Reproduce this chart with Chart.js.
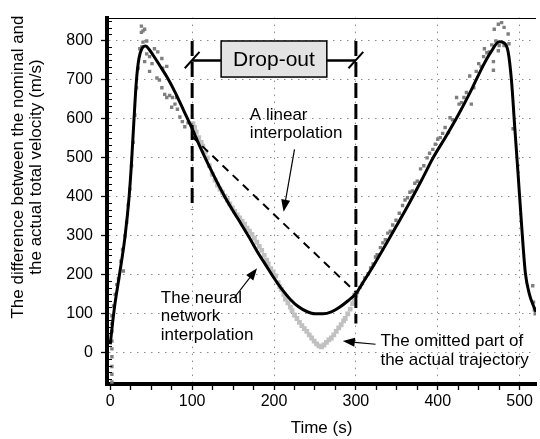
<!DOCTYPE html>
<html>
<head>
<meta charset="utf-8">
<script src="https://cdn.jsdelivr.net/npm/chart.js@4.4.1/dist/chart.umd.min.js"></script>
<style>
  html, body { margin: 0; padding: 0; background: #fff; overflow: hidden; }
  #wrap { width: 540px; height: 439px; position: relative; }
</style>
</head>
<body>
<div id="wrap"><canvas id="velocity"></canvas></div>
<script>
// actual trajectory, recorded samples (outside the drop-out)
const actualT = [2, 2, 2, 2, 2, 2, 2, 2, 2, 4, 6, 8, 10, 13, 16, 15, 18, 20, 22, 24, 26, 28, 30, 32, 34,
  38, 42, 40, 38, 40, 44.5, 38.5, 36, 44.5, 42, 48, 54, 58, 48, 51, 63, 64, 69, 57, 60, 63, 66.5, 69, 72.5,
  76, 81, 79, 75, 82, 85, 88, 91, 95, 99,
  298, 302, 305, 308, 311, 315, 318, 321, 324, 326, 330, 333, 336, 339, 342, 345, 349, 353, 357, 360, 363,
  366, 369, 372, 375, 379, 383, 387, 390, 394, 397, 400, 403, 406, 409, 413, 415, 418, 423, 426, 429, 432,
  435, 439, 441, 444, 447, 450, 453, 456, 457, 460, 463, 466, 468, 468, 471, 474, 475, 469, 474, 478, 481,
  481, 486, 487, 492, 516, 518, 519, 517];
const actualV = [95, 75, 55, 30, 10, -10, -35, -55, -75, 120, 150, 175, 190, 235, 210, 265, 300, 335, 380,
  420, 480, 540, 610, 680, 730,
  838, 830, 826, 822, 797, 800, 785, 780, 767, 747, 760, 780, 772, 722, 742, 755, 730, 735, 705, 700, 680,
  663, 655, 660, 655, 655, 638, 630, 625, 605, 593, 580, 590, 585,
  150, 155, 168, 178, 192, 203, 218, 228, 246, 252, 270, 282, 290, 307, 312, 328, 340, 358, 378, 392, 398,
  412, 415, 435, 440, 472, 480, 500, 512, 522, 535, 548, 552, 563, 578, 565, 603, 598, 655, 638, 642, 655,
  668, 710, 638, 680, 722, 742, 735, 760, 780, 770, 772, 790, 747, 725, 800, 775, 788, 830, 843, 847, 835,
  788, 818, 793, 575, 172, 110, 100, 130];

// omitted part of the actual trajectory (inside the drop-out)
const omittedT = [101, 103, 105, 108, 111, 113, 116, 118.5, 121, 124.5, 128, 131, 134, 137, 140, 143, 146,
  149, 152, 155, 158, 161, 164, 167, 170, 173, 176, 179, 182, 185, 188, 191, 193, 196, 199, 202, 205, 207,
  209, 212, 214, 217, 220, 222, 225, 228, 231, 234, 237, 240, 243, 246, 249, 252, 255, 258, 261, 264, 267,
  270, 273, 276, 279, 282, 285, 287, 290, 293, 296, 298, 300];
const omittedV = [588, 578, 566, 552, 540, 530, 515, 500, 480, 458, 443, 430, 420, 412, 402, 392, 382, 372,
  363, 354, 346, 338, 330, 320, 312, 304, 294, 284, 273, 263, 250, 238, 228, 216, 207, 197, 180, 170, 163,
  150, 138, 128, 117, 108, 97, 88, 78, 70, 62, 55, 46, 38, 30, 23, 18, 15, 20, 27, 33, 38, 46, 55, 64, 72,
  82, 88, 100, 112, 126, 138, 148];

// neural network interpolation
const neuralT = [0, 3, 6, 11, 18, 23, 26, 29, 32, 35, 39, 43, 48, 55, 62, 70, 80, 90, 100, 110, 120, 130,
  140, 150, 160, 170, 180, 190, 200, 210, 220, 230, 240, 250, 260, 270, 280, 290, 300, 310, 320, 335, 350,
  365, 380, 395, 410, 425, 440, 455, 465, 475, 481, 486, 490, 494, 498, 502, 507, 512, 517, 520];
const neuralV = [22, 80, 130, 197, 298, 400, 490, 600, 700, 755, 782, 787, 777, 755, 732, 705, 665, 620,
  575, 527, 482, 440, 400, 364, 330, 295, 258, 225, 192, 162, 137, 118, 106, 100, 100, 105, 117, 133, 152,
  185, 218, 272, 327, 383, 442, 503, 555, 610, 670, 735, 772, 798, 795, 772, 700, 580, 462, 340, 205, 150,
  120, 105];

// linear interpolation across the drop-out
const linearT = [100, 300];
const linearV = [555, 155];

// drop-out limits
const dropT = [100, 300];
const dropTop = 800;
const dropBottom = [368, 75];
const dropLevel = 750;

const xTickLabels = [0, 100, 200, 300, 400, 500];
const yTickLabels = [0, 100, 200, 300, 400, 500, 600, 700, 800];

const pts = (ts, vs) => ts.map((t, i) => ({x: t, y: vs[i]}));
const FONT = "'Liberation Sans', Arial, sans-serif";

Chart.defaults.font.family = FONT;
Chart.defaults.color = '#000';

const vLine = (i) => ({
  data: [{x: dropT[i], y: dropTop}, {x: dropT[i], y: dropBottom[i]}],
  showLine: true, borderColor: '#000', borderWidth: 3, borderDash: [15, 6], pointRadius: 0
});
const slash = (i) => ({
  data: [{x: dropT[i] - 9, y: dropLevel - 20}, {x: dropT[i] + 9, y: dropLevel + 22}],
  showLine: true, borderColor: '#000', borderWidth: 2, pointRadius: 0
});

const annotate = {
  id: 'annotate',
  afterDatasetsDraw(chart) {
    const {ctx, chartArea: a, scales: {x, y}} = chart;
    const px = t => x.getPixelForValue(t);
    const py = v => y.getPixelForValue(v);
    ctx.save();

    // thin top frame
    ctx.strokeStyle = '#000';
    ctx.lineWidth = 1;
    ctx.beginPath();
    ctx.moveTo(a.left, Math.round(a.top) + 0.5);
    ctx.lineTo(a.right, Math.round(a.top) + 0.5);
    ctx.stroke();

    // minor y ticks, inside
    for (let k = -4; k <= 51; k++) {
      if (k % 6 === 0) continue;
      const yy = Math.round(py(k * 100 / 6)) + 0.5;
      ctx.beginPath();
      ctx.moveTo(a.left + 1, yy);
      ctx.lineTo(a.left + 5, yy);
      ctx.stroke();
    }

    // drop-out box
    const bx0 = px(135.4), bx1 = px(264.5), by0 = py(800), by1 = py(707.5);
    ctx.fillStyle = '#e3e3e3';
    ctx.fillRect(bx0, by0, bx1 - bx0, by1 - by0);
    ctx.lineWidth = 1.5;
    ctx.strokeRect(bx0, by0, bx1 - bx0, by1 - by0);
    ctx.fillStyle = '#000';
    ctx.font = '21px ' + FONT;
    ctx.textAlign = 'center';
    ctx.textBaseline = 'middle';
    ctx.fillText('Drop-out', (bx0 + bx1) / 2, (by0 + by1) / 2 + 1);

    // labels
    ctx.font = '17px ' + FONT;
    ctx.textAlign = 'left';
    ctx.textBaseline = 'alphabetic';
    ctx.fillText('A linear', px(170.5), 119.5);
    ctx.fillText('interpolation', px(170.5), 138);
    ctx.fillText('The neural', px(61.7), 302.5);
    ctx.fillText('network', px(61.7), 321);
    ctx.fillText('interpolation', px(61.7), 339.5);
    ctx.fillText('The omitted part of', px(330), 346);
    ctx.fillText('the actual trajectory', px(330), 365);

    // arrows
    ctx.lineWidth = 1.2;
    arrow(ctx, px(225), py(522), px(211.7), py(362));
    arrow(ctx, px(151), py(140), px(179.3), py(217));
    arrow(ctx, px(324), py(22), px(284), py(30));
    ctx.restore();
  },
  afterDraw(chart) {
    const ctx = chart.ctx;
    ctx.save();
    ctx.fillStyle = '#000';
    ctx.font = '17px ' + FONT;
    ctx.textAlign = 'center';
    ctx.textBaseline = 'alphabetic';
    ctx.translate(0, 167);
    ctx.rotate(-Math.PI / 2);
    ctx.fillText('The difference between the nominal and', 0, 23);
    ctx.fillText('the actual total velocity (m/s)', 0, 41);
    ctx.restore();
  }
};

function arrow(ctx, x0, y0, x1, y1) {
  const ang = Math.atan2(y1 - y0, x1 - x0);
  const L = 12, W = 4.5;
  const c = Math.cos(ang), s = Math.sin(ang);
  ctx.beginPath();
  ctx.moveTo(x0, y0);
  ctx.lineTo(x1 - L * 0.8 * c, y1 - L * 0.8 * s);
  ctx.stroke();
  ctx.beginPath();
  ctx.moveTo(x1, y1);
  ctx.lineTo(x1 - L * c + W * s, y1 - L * s - W * c);
  ctx.lineTo(x1 - L * c - W * s, y1 - L * s + W * c);
  ctx.closePath();
  ctx.fill();
}

new Chart(document.getElementById('velocity'), {
  type: 'scatter',
  data: {
    datasets: [
      {
        label: 'Neural network interpolation',
        data: pts(neuralT, neuralV),
        showLine: true, borderColor: '#000', borderWidth: 3,
        cubicInterpolationMode: 'monotone', pointRadius: 0
      },
      {
        label: 'Linear interpolation',
        data: pts(linearT, linearV),
        showLine: true, borderColor: '#000', borderWidth: 2, borderDash: [8, 6], pointRadius: 0
      },
      vLine(0), vLine(1),
      {
        data: [{x: dropT[0], y: dropLevel}, {x: dropT[1], y: dropLevel}],
        showLine: true, borderColor: '#000', borderWidth: 2.5, pointRadius: 0
      },
      slash(0), slash(1),
      {
        label: 'Actual',
        data: pts(actualT, actualV),
        pointStyle: 'rect', pointRadius: 2.4, borderWidth: 0,
        backgroundColor: '#7f7f7f'
      },
      {
        label: 'Omitted',
        data: pts(omittedT, omittedV),
        pointStyle: 'rect', pointRadius: 3.4, borderWidth: 0,
        backgroundColor: '#c0c0c0'
      }
    ]
  },
  options: {
    responsive: true,
    maintainAspectRatio: false,
    devicePixelRatio: 1,
    animation: false,
    layout: {padding: {top: 9, right: 0, left: 0, bottom: 0}},
    plugins: {legend: {display: false}, tooltip: {enabled: false}},
    scales: {
      x: {
        type: 'linear', min: -4, max: 520,
        afterFit: s => { s.height = 55; },
        ticks: {
          stepSize: 25, includeBounds: false, autoSkip: false, maxRotation: 0,
          padding: 2, font: {size: 16}, color: '#000',
          callback: v => xTickLabels.includes(v) ? String(v) : ''
        },
        grid: {
          color: c => (c.tick && c.tick.value > 0 && c.tick.value % 100 === 0) ? '#8c8c8c' : 'transparent',
          tickColor: '#000', tickLength: 6, tickWidth: 1.3, lineWidth: 1
        },
        border: {display: true, color: '#000', width: 4, dash: [1.5, 5.5]},
        title: {display: true, text: 'Time (s)', font: {size: 17}, color: '#000', padding: {top: 0, bottom: 0}}
      },
      y: {
        type: 'linear', min: -80, max: 860,
        afterFit: s => { s.width = 107; },
        ticks: {
          stepSize: 100, includeBounds: false, autoSkip: false,
          padding: 8, font: {size: 16}, color: '#000',
          callback: v => yTickLabels.includes(v) ? String(v) : ''
        },
        grid: {
          color: c => (c.tick && yTickLabels.includes(c.tick.value)) ? '#8c8c8c' : 'transparent',
          tickColor: '#000', tickLength: 6, tickWidth: 1.3, lineWidth: 1
        },
        border: {display: true, color: '#000', width: 4, dash: [1.5, 5.5]}
      }
    }
  },
  plugins: [annotate]
});
</script>
</body>
</html>
